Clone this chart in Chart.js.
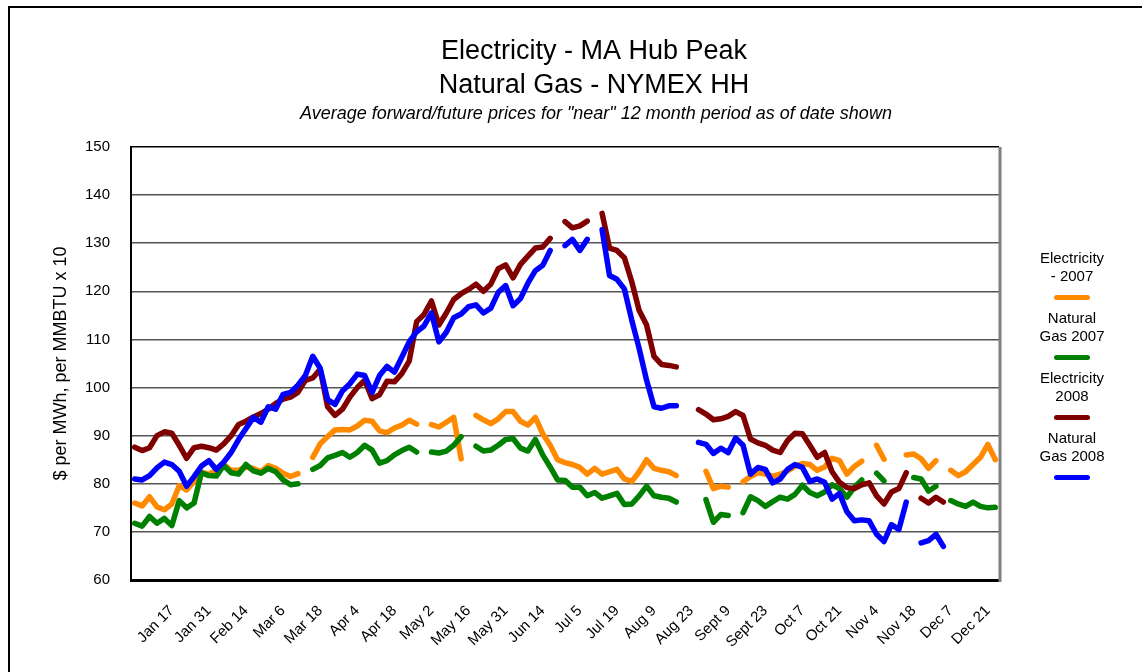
<!DOCTYPE html>
<html>
<head>
<meta charset="utf-8">
<script src="https://cdn.jsdelivr.net/npm/chart.js@4"></script>
<style>
  html, body { margin: 0; padding: 0; background: #fff; }
  body { width: 1142px; height: 672px; position: relative; overflow: hidden; font-family: "Liberation Sans", Arial, sans-serif; }
  #frame { position: absolute; left: 8px; top: 6px; width: 1200px; height: 700px; border-top: 2px solid #000; border-left: 2px solid #000; }
  #chart { position: absolute; left: 0; top: 0; }
  .key { position: absolute; left: 1000px; width: 144px; text-align: center; font-size: 15px; line-height: 18px; color: #000; }
  .key i { display: block; width: 36px; height: 5px; border-radius: 3px; margin: 10px auto 0; }
</style>
</head>
<body>
<div id="frame"></div>
<canvas id="chart" width="1142" height="672"></canvas>
<div id="legend"></div>
<script>
const titleLines = ["Electricity - MA Hub Peak", "Natural Gas - NYMEX HH"];
const subtitle = 'Average forward/future prices for "near" 12 month period as of date shown';
const yTitle = "$ per MWh, per MMBTU x 10";

const tickLabels = ["Jan 17", "Jan 31", "Feb 14", "Mar 6", "Mar 18", "Apr 4", "Apr 18", "May 2",
  "May 16", "May 31", "Jun 14", "Jul 5", "Jul 19", "Aug 9", "Aug 23", "Sept 9", "Sept 23",
  "Oct 7", "Oct 21", "Nov 4", "Nov 18", "Dec 7", "Dec 21"];

// one point every ~2 trading days, a tick label every 5th point
const elec2007 = [76, 75.4, 77.3, 75.2, 74.6, 75.8, 79.6, 78.7, 80.5, 82.4,
  82, 82.8, 84, 82.8, 82.8, 83.5, 83.2, 82.5, 83.8, 83.2,
  82.2, 81.5, 82.1, null, 85.5, 88.3, 89.8, 91.2, 91.3, 91.2,
  92, 93.2, 93, 91, 90.6, 91.6, 92.2, 93.2, 92.4, null,
  92.3, 91.8, 92.8, 93.8, 85.2, null, 94.2, 93.3, 92.5, 93.5,
  95, 95, 93, 92.2, 93.8, 90.4, 88, 85, 84.4, 84,
  83.4, 82, 83.2, 82, 82.5, 83, 81, 80.5, 82.5, 85,
  83.2, 82.8, 82.5, 81.7, null, null, null, 82.6, 79, 79.5,
  79.3, null, 80.4, 81.5, 82.3, 82, 81.6, 82, 82.7, 83.6,
  84.2, 84, 82.8, 83.5, 85.3, 84.8, 82, 83.6, 84.7, null,
  88, 85.1, null, null, 86, 86.2, 85.2, 83.2, 84.8, null,
  82.8, 81.7, 82.5, 84, 85.5, 88.2, 85];

const gas2007 = [71.8, 71.2, 73.2, 71.8, 72.8, 71.3, 76.5, 75, 76, 82.3,
  81.7, 81.6, 83.8, 82.3, 82, 84, 82.7, 82.2, 83.2, 82.5,
  80.8, 79.8, 80, null, 83, 83.8, 85.4, 85.9, 86.5, 85.5,
  86.5, 88, 87, 84.3, 84.8, 86, 86.9, 87.6, 86.6, null,
  86.6, 86.4, 86.8, 88, 89.8, null, 87.8, 86.8, 87, 88,
  89.2, 89.4, 87.4, 86.8, 89.2, 86, 83.5, 80.8, 80.7, 79.3,
  79.3, 77.5, 78.2, 77, 77.5, 78, 75.7, 75.8, 77.5, 79.5,
  77.5, 77.2, 77, 76.2, null, null, null, 76.7, 72, 73.6,
  73.4, null, 74, 77.3, 76.5, 75.3, 76.3, 77.2, 76.8, 77.8,
  79.7, 78.2, 77.5, 78.3, 79.8, 79, 77.2, 79.3, 80.8, null,
  82.2, 80.6, null, null, null, 81.3, 81, 78.5, 79.5, null,
  76.5, 75.8, 75.3, 76.2, 75.3, 75, 75.1];

const elec2008 = [87.6, 86.9, 87.5, 90, 90.8, 90.5, 88, 85.3, 87.5, 87.8,
  87.5, 87, 88.3, 90, 92.3, 93, 93.9, 94.6, 95.5, 96.7,
  97.6, 98, 99, 101.5, 102, 103.8, 96, 94.2, 95.5, 98,
  100, 101.5, 97.7, 98.5, 101.3, 101.2, 102.9, 105.5, 113.7, 115.2,
  118, 113, 115.5, 118.3, 119.5, 120.4, 121.5, 120, 121.5, 124.7,
  125.5, 122.8, 125.6, 127.3, 129, 129.2, 131, null, 134.5, 133.2,
  133.6, 134.6, null, 136.2, 129, 128.5, 127, 122, 116, 113,
  106.5, 104.8, 104.6, 104.3, null, null, 95.4, 94.5, 93.3, 93.5,
  94, 95, 94.2, 89.3, 88.5, 88, 87, 86.5, 89, 90.5,
  90.4, 88, 85.5, 86.5, 82.5, 80.3, 79.2, 79, 79.8, 80.2,
  77.5, 75.8, 78.3, 79, 82.3, null, 77, 76, 77.2, 76.2,
  null, null, null, null, null, null, null];

const gas2008 = [81, 80.8, 81.7, 83.3, 84.5, 84, 82.6, 79.5, 81.5, 83.7,
  84.8, 83, 84.5, 86.5, 89.2, 91.5, 93.8, 92.8, 96, 95.5,
  98.6, 99, 100.5, 102.5, 106.5, 104, 97.5, 96.5, 99.3, 100.8,
  102.8, 102.5, 99, 102.5, 104.4, 103.2, 106.3, 109.5, 111.6, 112.8,
  115.5, 109.5, 111.5, 114.5, 115.3, 116.8, 117.2, 115.5, 116.5, 119.8,
  121.2, 117, 118.5, 121.7, 124.3, 125.4, 128.5, null, 129.5, 130.8,
  128.5, 130.8, null, 132.8, 123.3, 122.5, 120.5, 114, 108.1, 101.5,
  96, 95.7, 96.2, 96.2, null, null, 88.6, 88.2, 86.3, 87.4,
  86.5, 89.5, 88, 82, 83.4, 83, 80.2, 81, 83, 84,
  83.4, 80.5, 81, 80.3, 76.8, 78, 74.2, 72.3, 72.5, 72.3,
  69.5, 68, 71.5, 70.5, 76.2, null, 67.7, 68.2, 69.5, 67,
  null, null, null, null, null, null, null];

const seriesNames = ["Electricity - 2007", "Natural Gas 2007", "Electricity 2008", "Natural Gas 2008"];
const legendLines = [["Electricity", "- 2007"], ["Natural", "Gas 2007"], ["Electricity", "2008"], ["Natural", "Gas 2008"]];
const colors = ["#ff8a00", "#008000", "#800000", "#0000ff"];

const categories = elec2007.map((v, i) => (i >= 5 && (i - 5) % 5 === 0) ? tickLabels[(i - 5) / 5] : "");

const family = '"Liberation Sans", Arial, sans-serif';

const frame = {
  id: "frame",
  beforeDatasetsDraw(chart) {
    const { ctx, chartArea: a } = chart;
    ctx.save();
    ctx.strokeStyle = "#7f7f7f";
    ctx.lineWidth = 3;
    ctx.beginPath();
    ctx.moveTo(a.right + 1, a.top);
    ctx.lineTo(a.right + 1, a.bottom + 2);
    ctx.stroke();
    ctx.restore();
  },
  afterDraw(chart) {
    const ctx = chart.ctx;
    ctx.save();
    ctx.fillStyle = "#000";
    ctx.textAlign = "center";
    ctx.textBaseline = "middle";
    ctx.font = "27px " + family;
    ctx.fillText(titleLines[0], 594, 52);
    ctx.fillText(titleLines[1], 594, 86);
    ctx.font = "italic 18px " + family;
    ctx.fillText(subtitle, 596, 114);
    ctx.restore();
  }
};

const datasets = [elec2007, gas2007, elec2008, gas2008].map((d, k) => ({
  label: seriesNames[k],
  data: d,
  borderColor: colors[k],
  backgroundColor: colors[k],
  order: 4 - k
}));

new Chart(document.getElementById("chart"), {
  type: "line",
  data: { labels: categories, datasets: datasets },
  options: {
    responsive: false,
    animation: false,
    spanGaps: false,
    layout: { padding: { top: 147, right: 143, bottom: 10, left: 46 } },
    elements: {
      line: { borderWidth: 5.5, tension: 0, borderJoinStyle: "round", borderCapStyle: "round" },
      point: { radius: 0 }
    },
    plugins: { legend: { display: false }, tooltip: { enabled: false } },
    scales: {
      x: {
        offset: true,
        grid: { display: false, drawTicks: false },
        border: { display: true, color: "#000", width: 3 },
        ticks: { autoSkip: false, minRotation: 45, maxRotation: 45, padding: 22, color: "#000", font: { size: 15, family: family } },
        afterFit(s) { s.height = 82; }
      },
      y: {
        min: 60,
        max: 150,
        ticks: { stepSize: 10, padding: 21, color: "#000", font: { size: 15, family: family } },
        grid: { color: c => c.tick && c.tick.value === 150 ? "#000" : "#555", lineWidth: 1.5, drawTicks: false },
        border: { color: "#000", width: 2 },
        title: { display: true, text: yTitle, color: "#000", font: { size: 18, family: family }, padding: { top: 4, bottom: 0 } },
        afterFit(s) { s.width = 85; }
      }
    }
  },
  plugins: [frame]
});

const legend = document.getElementById("legend");
legendLines.forEach((lines, k) => {
  const el = document.createElement("div");
  el.className = "key";
  el.style.top = (249 + k * 60) + "px";
  el.innerHTML = lines.join("<br>") + '<i style="background:' + colors[k] + '"></i>';
  legend.appendChild(el);
});
</script>
</body>
</html>
